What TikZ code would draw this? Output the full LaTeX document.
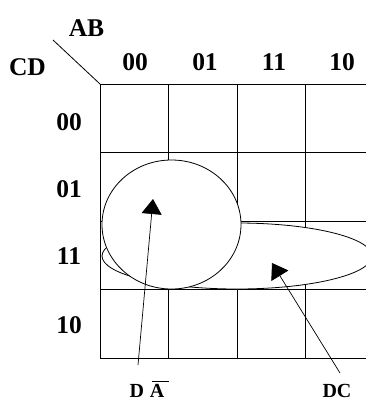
\documentclass[tikz,border=0pt]{standalone}
\usepackage{fontspec}
\setmainfont{Liberation Serif}
\usetikzlibrary{arrows.meta,shapes.geometric}
\tikzset{
  big/.style={font=\bfseries\fontsize{25.5}{25.5}\selectfont, anchor=base, inner sep=0pt},
  small/.style={font=\bfseries\fontsize{20}{20}\selectfont, anchor=base, inner sep=0pt},
  gridline/.style={line width=0.8pt},
  groupshape/.style={draw, line width=0.8pt, fill=white, ellipse, inner sep=0pt},
  pointer/.style={line width=0.7pt, -{Triangle[length=15pt,width=20pt]}}
}
\begin{document}
\begin{tikzpicture}[x=1pt,y=-1pt]
\useasboundingbox (0,0) rectangle (366,400);
% diagonal
\coordinate (d1) at (53,40);
\coordinate (d2) at (100,84);
\draw[gridline] (d1) -- (d2);
% grid
\foreach \yy in {84,152,221,289,358} \draw[gridline] (100,\yy) -- (367,\yy);
\foreach \xx in {100,168,237,305} \draw[gridline] (\xx,84) -- (\xx,358);
% labels
\node[big] (ab) at (86.5,36) {AB};
\node[big] (cd) at (27.5,75) {CD};
\node[big] (c00) at (135,70) {00};
\node[big] (c01) at (205,70) {01};
\node[big] (c11) at (274,70) {11};
\node[big] (c10) at (342,70) {10};
\node[big] (r00) at (69,130) {00};
\node[big] (r01) at (69,197.5) {01};
\node[big] (r11) at (69,264.5) {11};
\node[big] (r10) at (69,333.5) {10};
% groups
\node[groupshape, minimum width=270pt, minimum height=66pt] (dc) at (237,256) {};
\node[groupshape, minimum width=139pt, minimum height=129pt] (da) at (171.5,224.5) {};
% pointer labels
\node[small] (lda) at (147,397) {D\hspace{0.3em}A\llap{\raisebox{15pt}{\rule{17pt}{0.6pt}}\kern-5pt}};
\node[small] (ldc) at (337,397) {DC};
\coordinate (s1) at (138,365);
\coordinate (t1) at (153,199);
\coordinate (s2) at (340,373);
\coordinate (t2) at (272,263);
\draw[pointer] (s1) -- (t1);
\draw[pointer] (s2) -- (t2);
\end{tikzpicture}
\end{document}
